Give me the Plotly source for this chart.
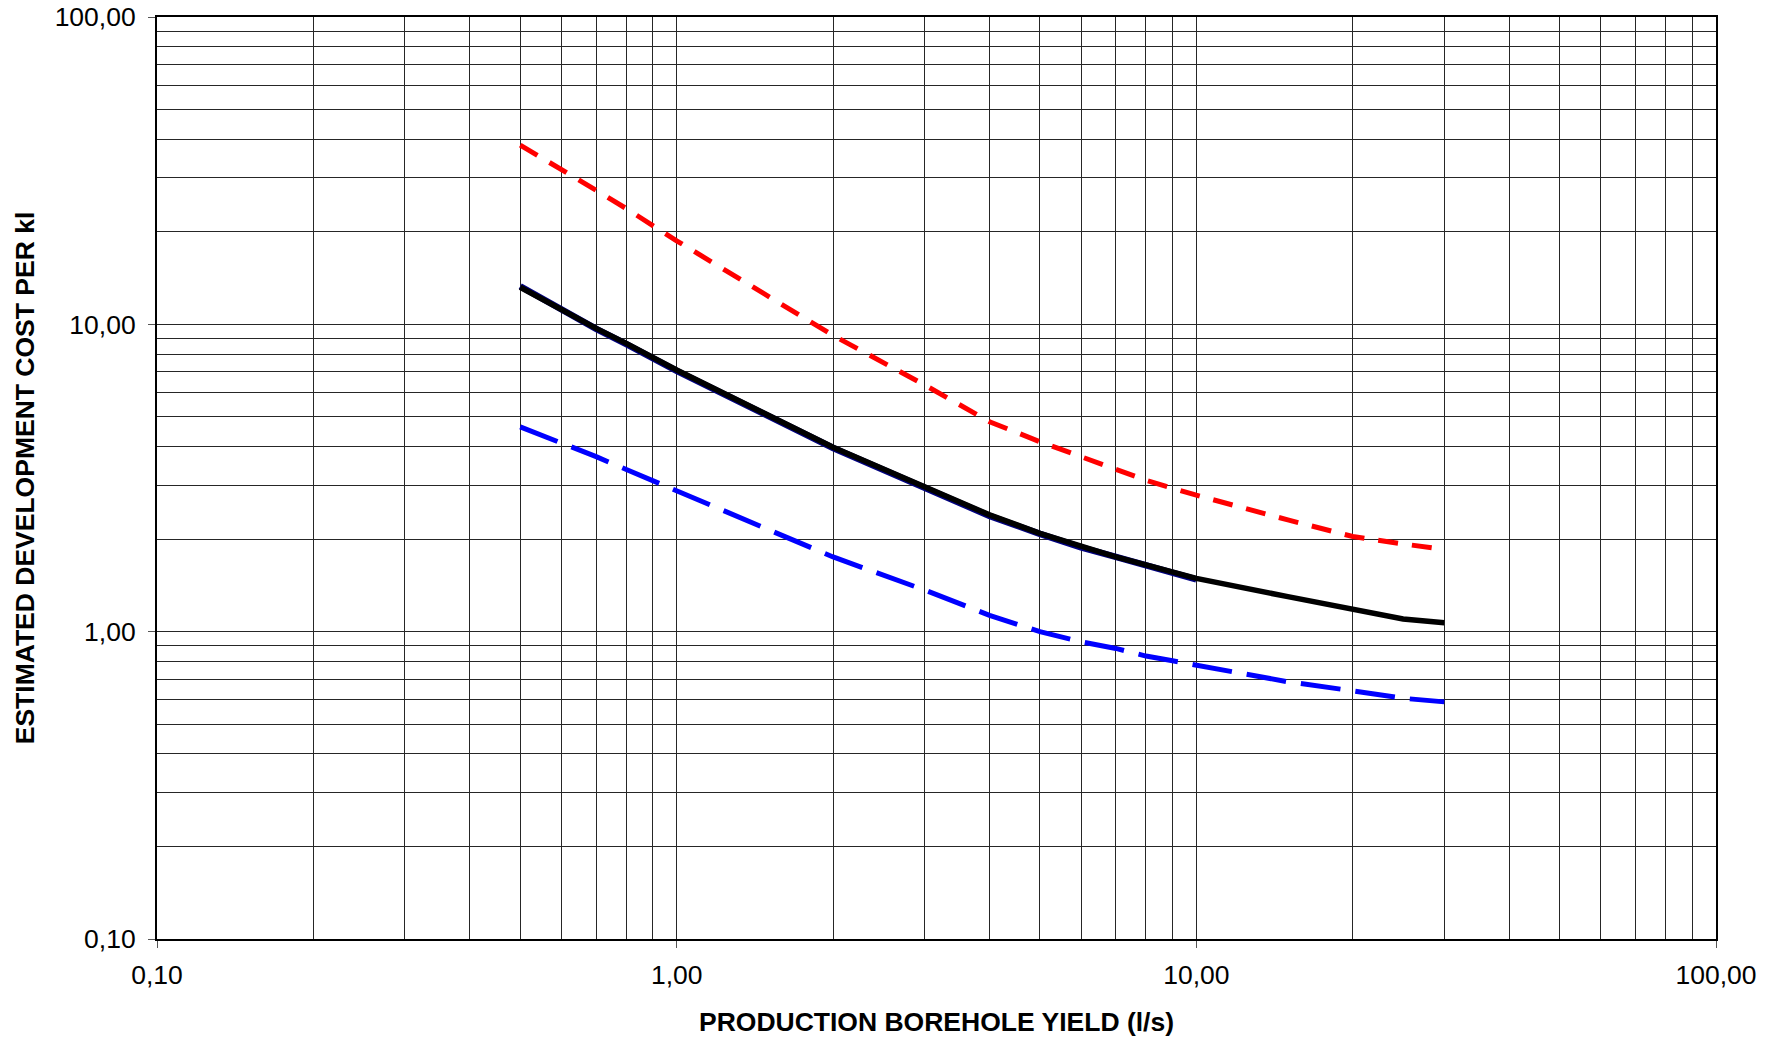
import plotly.graph_objects as go

# Borehole yield (l/s) and estimated development cost per kl
yield_main = [0.5, 0.6, 0.7, 0.8, 0.9, 1, 2, 3, 4, 5, 6, 7, 8, 9, 10, 15, 20, 25, 30]
cost_mid = [13.2, 11.13, 9.70, 8.67, 7.81, 7.10, 3.98, 2.96, 2.40, 2.09, 1.89, 1.75, 1.65, 1.555, 1.49, 1.30, 1.18, 1.10, 1.07]
cost_high = [38.3, 32.0, 27.3, 23.8, 21.0, 18.7, 9.2, 6.35, 4.82, 4.15, 3.71, 3.37, 3.11, 2.93, 2.78, 2.31, 2.04, 1.93, 1.85]
cost_low = [4.64, 4.12, 3.71, 3.37, 3.10, 2.87, 1.75, 1.366, 1.13, 1.00, 0.927, 0.882, 0.833, 0.804, 0.778, 0.687, 0.642, 0.607, 0.591]

yield_ref = [0.5, 0.6, 0.7, 0.8, 0.9, 1, 2, 3, 4, 5, 6, 7, 8, 9, 10]
cost_ref = [13.3, 11.1, 9.66, 8.62, 7.76, 7.06, 3.96, 2.95, 2.38, 2.08, 1.88, 1.75, 1.65, 1.56, 1.48]

FONT = "Liberation Sans, Arial, sans-serif"

fig = go.Figure()
fig.add_trace(go.Scatter(x=yield_main, y=cost_high, mode="lines",
                         line=dict(color="#ff0000", width=5, dash="20px,14px")))
fig.add_trace(go.Scatter(x=yield_main, y=cost_low, mode="lines",
                         line=dict(color="#0000ff", width=5, dash="40px,15px")))
fig.add_trace(go.Scatter(x=yield_ref, y=cost_ref, mode="lines",
                         line=dict(color="#000080", width=6.5)))
fig.add_trace(go.Scatter(x=yield_main, y=cost_mid, mode="lines",
                         line=dict(color="#000000", width=5.5)))

grid = "#262626"
axis_common = dict(
    type="log",
    range=[-1, 2],
    dtick=1,
    tickformat=".2f",
    ticks="outside",
    ticklen=7,
    tickwidth=1,
    tickcolor="#555555",
    showline=True,
    linecolor="#000000",
    linewidth=2,
    mirror=True,
    showgrid=True,
    gridcolor=grid,
    gridwidth=1,
    zeroline=False,
    automargin=False,
    minor=dict(dtick="D1", showgrid=True, gridcolor=grid, gridwidth=1, ticks=""),
    tickfont=dict(family=FONT, size=26.5, color="#000000"),
)

fig.update_xaxes(**axis_common,
                 ticklabelstandoff=4,
                 title=dict(text="<b>PRODUCTION BOREHOLE YIELD (l/s)</b>",
                            font=dict(family=FONT, size=26.5, color="#000000"),
                            standoff=24))
fig.update_yaxes(**axis_common,
                 ticklabelstandoff=7,
                 title=dict(text="<b>ESTIMATED DEVELOPMENT COST PER kl</b>",
                            font=dict(family=FONT, size=26.5, color="#000000"),
                            standoff=12))

fig.update_layout(
    width=1771,
    height=1041,
    autosize=False,
    separators=",.",
    showlegend=False,
    plot_bgcolor="#ffffff",
    paper_bgcolor="#ffffff",
    margin=dict(l=157, r=55, t=17, b=102),
)

fig.write_html("out.html")
